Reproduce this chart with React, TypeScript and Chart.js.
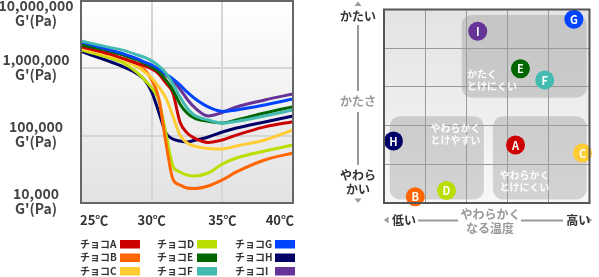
import React, { useEffect, useRef } from 'react';
import { Chart, registerables } from 'chart.js';
Chart.register(...registerables);

const FONT = '"Noto Sans CJK JP", "Noto Sans", sans-serif';

// ---- left chart data ----
const temperatures = [25, 27, 28, 29, 29.5, 30, 30.5, 31, 31.5, 32, 32.5, 33, 34, 35, 36, 38, 40];
const xTickValues = [25, 30, 35, 40];
const xTickLabels = ['25℃', '30℃', '35℃', '40℃'];
const yTickValues = [1e4, 1e5, 1e6, 1e7];
const yTickLabels = ['10,000', '100,000', '1,000,000', '10,000,000'];
const yUnit = "G'(Pa)";

const seriesNames = ['チョコA', 'チョコB', 'チョコC', 'チョコD', 'チョコE', 'チョコF', 'チョコG', 'チョコH', 'チョコI'];
const seriesColors = ['#cc0000', '#ff6600', '#ffcc33', '#bbdd00', '#006600', '#44bbb0', '#0044ff', '#000066', '#663399'];
const seriesDrawOrder = [3, 5, 4, 6, 2, 0, 1, 7, 8];

const chocoA = [2100000, 1640000, 1400000, 1180000, 1090000, 980000, 826000, 607000, 431000, 160000, 110000, 92500, 79300, 86300, 102000, 135000, 161000];
const chocoB = [2050000, 1580000, 1360000, 1090000, 947000, 673000, 363000, 80600, 22700, 18500, 16700, 16400, 17900, 22000, 28900, 43500, 55300];
const chocoC = [1990000, 1530000, 1330000, 1050000, 884000, 720000, 529000, 363000, 196000, 102000, 77900, 70300, 64500, 63500, 70300, 86300, 122000];
const chocoD = [1880000, 1430000, 1200000, 855000, 673000, 511000, 339000, 110000, 35500, 28900, 26100, 25200, 27900, 38000, 46600, 59300, 72800];
const chocoE = [2230000, 1810000, 1580000, 1330000, 1180000, 1050000, 884000, 673000, 478000, 296000, 217000, 183000, 163000, 154000, 171000, 217000, 270000];
const chocoF = [2550000, 2050000, 1850000, 1580000, 1450000, 1290000, 1090000, 855000, 586000, 376000, 258000, 203000, 171000, 154000, 163000, 196000, 241000];
const chocoG = [2470000, 1880000, 1640000, 1380000, 1240000, 1120000, 980000, 826000, 696000, 567000, 446000, 363000, 267000, 229000, 241000, 286000, 351000];
const chocoH = [1780000, 1270000, 1050000, 826000, 673000, 446000, 225000, 110000, 89300, 83400, 80600, 84800, 95700, 113500, 130000, 160000, 196000];
const chocoI = [2430000, 1880000, 1610000, 1360000, 1220000, 1100000, 947000, 798000, 650000, 494000, 351000, 267000, 196000, 221000, 267000, 339000, 417000];
const seriesValues = [chocoA, chocoB, chocoC, chocoD, chocoE, chocoF, chocoG, chocoH, chocoI];

// ---- right chart data ----
const mapLetters = ['A', 'B', 'C', 'D', 'E', 'F', 'G', 'H', 'I'];
const meltTemp = [3.2, 0.76, 4.83, 1.52, 3.32, 3.91, 4.62, 0.23, 2.28];
const hardness = [1.5, 0.16, 1.29, 0.32, 3.47, 3.18, 4.75, 1.6, 4.44];
const mapTicks = [0, 1, 2, 3, 4, 5];
const regionX = [[1.89, 4.93], [0.14, 2.43], [2.65, 4.93]];
const regionY = [[2.72, 4.86], [0.09, 2.24], [0.09, 2.24]];
const regionLabels = [['かたく', 'とけにくい'], ['やわらかく', 'とけやすい'], ['やわらかく', 'とけにくい']];
const regionLabelAt = [[2.02, 3.33], [1.13, 1.94], [2.81, 0.73]];

const lineDecor = {
  id: 'lineDecor',
  beforeDraw(chart: any) {
    const { ctx, chartArea: a } = chart;
    const g = ctx.createLinearGradient(0, a.top, 0, a.bottom);
    g.addColorStop(0, '#ffffff');
    g.addColorStop(1, '#e2e2e2');
    ctx.save();
    ctx.fillStyle = g;
    ctx.fillRect(a.left, a.top, a.right - a.left, a.bottom - a.top);
    ctx.restore();
  },
  afterDraw(chart: any) {
    const { ctx, chartArea: a, scales } = chart;
    ctx.save();
    ctx.strokeStyle = '#666';
    ctx.lineWidth = 2;
    ctx.strokeRect(a.left, a.top, a.right - a.left, a.bottom - a.top);
    ctx.textBaseline = 'middle';
    ctx.fillStyle = '#444';
    ctx.font = `bold 14px ${FONT}`;
    ctx.textAlign = 'center';
    yTickValues.forEach((v, i) => {
      const py = scales.y.getPixelForValue(v);
      const c = Math.min(Math.max(py - 1, a.top + 12), a.bottom - 2);
      ctx.fillText(yTickLabels[i], 36, c - 7.5);
      ctx.fillText(yUnit, 36, c + 7.5);
    });
    ctx.fillStyle = '#333';
    ctx.font = `bold 13px ${FONT}`;
    xTickValues.forEach((v, i) => {
      const px = scales.x.getPixelForValue(v);
      ctx.textAlign = i === 0 ? 'left' : i === xTickValues.length - 1 ? 'right' : 'center';
      ctx.fillText(xTickLabels[i], i === 0 ? px - 1 : i === xTickValues.length - 1 ? px + 1 : px, a.bottom + 17);
    });
    // legend
    const colX = [80, 157, 235];
    const rowY = [244, 257.5, 271];
    ctx.font = `bold 10px ${FONT}`;
    ctx.textAlign = 'left';
    seriesNames.forEach((name, i) => {
      const cx = colX[Math.floor(i / 3)];
      const cy = rowY[i % 3];
      ctx.fillStyle = '#333';
      ctx.fillText(name, cx, cy);
      ctx.fillStyle = seriesColors[i];
      ctx.fillRect(cx + 40, cy - 4, 20, 8.5);
    });
    ctx.restore();
  },
};

const mapDecor = {
  id: 'mapDecor',
  beforeDraw(chart: any) {
    const { ctx, chartArea: a, scales } = chart;
    const g = ctx.createLinearGradient(0, a.top, 0, a.bottom);
    g.addColorStop(0, '#e3e3e3');
    g.addColorStop(1, '#f8f8f8');
    ctx.save();
    ctx.fillStyle = g;
    ctx.fillRect(a.left, a.top, a.right - a.left, a.bottom - a.top);
    ctx.fillStyle = 'rgba(125,125,125,0.3)';
    regionX.forEach((rx, i) => {
      const x0 = scales.x.getPixelForValue(rx[0]);
      const x1 = scales.x.getPixelForValue(rx[1]);
      const y0 = scales.y.getPixelForValue(regionY[i][1]);
      const y1 = scales.y.getPixelForValue(regionY[i][0]);
      ctx.beginPath();
      ctx.roundRect(x0, y0, x1 - x0, y1 - y0, 10);
      ctx.fill();
    });
    ctx.restore();
  },
  beforeDatasetsDraw(chart: any) {
    const { ctx, scales } = chart;
    ctx.save();
    ctx.fillStyle = 'rgba(255,255,255,0.95)';
    ctx.font = `bold 10px ${FONT}`;
    ctx.textAlign = 'left';
    ctx.textBaseline = 'middle';
    regionLabels.forEach((lines, i) => {
      const x = scales.x.getPixelForValue(regionLabelAt[i][0]);
      const y = scales.y.getPixelForValue(regionLabelAt[i][1]);
      lines.forEach((t, k) => ctx.fillText(t, x, y + k * 12.3));
    });
    ctx.restore();
  },
  afterDatasetsDraw(chart: any) {
    const { ctx } = chart;
    const meta = chart.getDatasetMeta(0);
    ctx.save();
    ctx.fillStyle = '#fff';
    ctx.font = `bold 11px ${FONT}`;
    ctx.textAlign = 'center';
    ctx.textBaseline = 'middle';
    meta.data.forEach((el: any, i: number) => ctx.fillText(mapLetters[i], el.x, el.y + 0.5));
    ctx.restore();
  },
  afterDraw(chart: any) {
    const { ctx, chartArea: a } = chart;
    ctx.save();
    ctx.strokeStyle = '#555';
    ctx.lineWidth = 2;
    ctx.strokeRect(a.left, a.top, a.right - a.left, a.bottom - a.top);
    const ax = a.left - 26;
    ctx.fillStyle = '#999';
    ctx.strokeStyle = '#999';
    ctx.lineWidth = 2;
    ctx.beginPath();
    ctx.moveTo(ax, 1.5); ctx.lineTo(ax - 3.5, 6); ctx.lineTo(ax + 3.5, 6); ctx.closePath(); ctx.fill();
    ctx.beginPath();
    ctx.moveTo(ax, 203); ctx.lineTo(ax - 3.5, 198.5); ctx.lineTo(ax + 3.5, 198.5); ctx.closePath(); ctx.fill();
    ctx.beginPath();
    ctx.moveTo(ax, 25); ctx.lineTo(ax, 91);
    ctx.moveTo(ax, 112); ctx.lineTo(ax, 165);
    ctx.stroke();
    const by = a.bottom + 17;
    ctx.beginPath();
    ctx.moveTo(a.left, by); ctx.lineTo(a.left + 4.5, by - 3.5); ctx.lineTo(a.left + 4.5, by + 3.5); ctx.closePath(); ctx.fill();
    ctx.beginPath();
    ctx.moveTo(a.right + 2.5, by); ctx.lineTo(a.right - 2, by - 3.5); ctx.lineTo(a.right - 2, by + 3.5); ctx.closePath(); ctx.fill();
    ctx.beginPath();
    ctx.moveTo(a.left + 34, by + 0.5); ctx.lineTo(a.left + 74, by + 0.5);
    ctx.moveTo(a.left + 137, by + 0.5); ctx.lineTo(a.left + 179, by + 0.5);
    ctx.stroke();
    ctx.textAlign = 'center';
    ctx.textBaseline = 'middle';
    ctx.font = `bold 12px ${FONT}`;
    ctx.fillStyle = '#333';
    ctx.fillText('かたい', ax, 16.5);
    ctx.fillText('やわら', ax, 175.5);
    ctx.fillText('かい', ax, 189.5);
    ctx.fillText('低い', a.left + 20, by);
    ctx.fillText('高い', a.left + 194.3, by);
    ctx.fillStyle = '#999';
    ctx.fillText('かたさ', ax, 101.7);
    ctx.fillText('やわらかく', a.left + 106.5, by - 5.5);
    ctx.fillText('なる温度', a.left + 106, by + 8.5);
    ctx.restore();
  },
};

export default function App() {
  const lineRef = useRef<HTMLCanvasElement>(null);
  const mapRef = useRef<HTMLCanvasElement>(null);

  useEffect(() => {
    const lineChart = new Chart(lineRef.current as HTMLCanvasElement, {
      type: 'line',
      data: {
        labels: temperatures,
        datasets: seriesNames.map((name, i) => ({
          label: name,
          data: temperatures.map((t, k) => ({ x: t, y: seriesValues[i][k] })),
          borderColor: seriesColors[i],
          backgroundColor: seriesColors[i],
          borderWidth: 3,
          pointRadius: 0,
          order: seriesDrawOrder[i],
          cubicInterpolationMode: 'monotone' as const,
          fill: false,
        })),
      },
      options: {
        responsive: false,
        animation: false,
        devicePixelRatio: 1,
        events: [],
        layout: { padding: { left: 81, right: 7, top: 1, bottom: 74 } },
        plugins: { legend: { display: false }, tooltip: { enabled: false } },
        scales: {
          x: {
            type: 'linear',
            min: 25,
            max: 40,
            afterBuildTicks: (s: any) => { s.ticks = xTickValues.map((v) => ({ value: v })); },
            afterFit: (s: any) => { s.height = 0; },
            ticks: { display: false },
            grid: { color: '#d6d6d6', lineWidth: 2, drawTicks: false },
            border: { display: false },
          },
          y: {
            type: 'logarithmic',
            min: 1e4,
            max: 1e7,
            afterBuildTicks: (s: any) => { s.ticks = yTickValues.map((v) => ({ value: v })); },
            afterFit: (s: any) => { s.width = 0; },
            ticks: { display: false },
            grid: { color: '#d6d6d6', lineWidth: 2, drawTicks: false },
            border: { display: false },
          },
        },
      } as any,
      plugins: [lineDecor],
    });

    const mapChart = new Chart(mapRef.current as HTMLCanvasElement, {
      type: 'scatter',
      data: {
        datasets: [
          {
            label: 'map',
            data: mapLetters.map((_, i) => ({ x: meltTemp[i], y: hardness[i] })),
            backgroundColor: mapLetters.map((_, i) => seriesColors[i]),
            borderWidth: 0,
            pointRadius: 9.5,
            pointHoverRadius: 9.5,
            clip: false as any,
          },
        ],
      },
      options: {
        responsive: false,
        animation: false,
        devicePixelRatio: 1,
        events: [],
        layout: { padding: { left: 84, right: 3.5, top: 1, bottom: 74 } },
        plugins: { legend: { display: false }, tooltip: { enabled: false } },
        scales: {
          x: {
            type: 'linear',
            min: 0,
            max: 5,
            afterBuildTicks: (s: any) => { s.ticks = mapTicks.map((v) => ({ value: v })); },
            afterFit: (s: any) => { s.height = 0; },
            ticks: { display: false },
            grid: { color: '#9a9a9a', lineWidth: 1, drawTicks: false },
            border: { display: false },
          },
          y: {
            type: 'linear',
            min: 0,
            max: 5,
            afterBuildTicks: (s: any) => { s.ticks = mapTicks.map((v) => ({ value: v })); },
            afterFit: (s: any) => { s.width = 0; },
            ticks: { display: false },
            grid: { color: '#9a9a9a', lineWidth: 1, drawTicks: false },
            border: { display: false },
          },
        },
      } as any,
      plugins: [mapDecor],
    });

    return () => {
      lineChart.destroy();
      mapChart.destroy();
    };
  }, []);

  return (
    <div style={{ position: 'fixed', left: 0, top: 0, width: 599, height: 277, background: '#fff' }}>
      <canvas ref={lineRef} width={300} height={277} style={{ position: 'absolute', left: 0, top: 0, width: 300, height: 277 }} />
      <canvas ref={mapRef} width={299} height={277} style={{ position: 'absolute', left: 300, top: 0, width: 299, height: 277 }} />
    </div>
  );
}
